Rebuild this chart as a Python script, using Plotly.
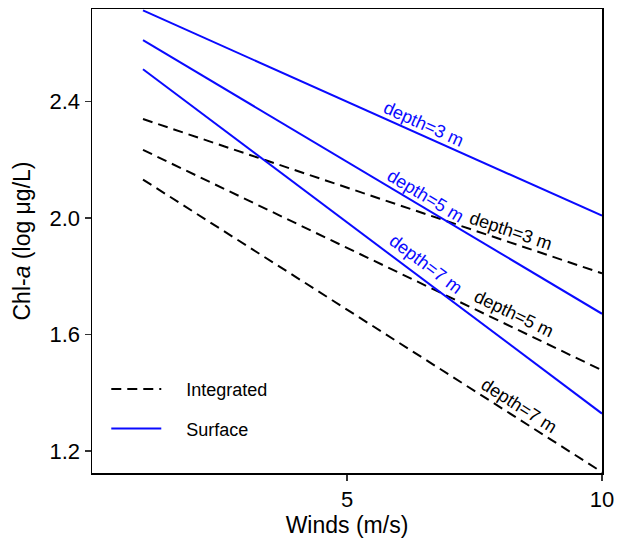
import math
import plotly.graph_objects as go

# Data
wind = [1, 10]
depths = ["3", "5", "7"]
integrated_start = [2.340, 2.234, 2.132]
integrated_end = [1.810, 1.477, 1.127]
surface_start = [2.713, 2.611, 2.511]
surface_end = [2.008, 1.671, 1.328]

x_ticks = [5, 10]
y_ticks = [1.2, 1.6, 2.0, 2.4]
y_tick_text = ["1.2", "1.6", "2.0", "2.4"]

# label positions (x in data units) and vertical offsets (px)
surf_label_x = [6.50, 6.54, 6.54]
surf_label_shift = [12, 13, 17]
int_label_x = [8.22, 8.28, 8.38]
int_label_shift = [12, 14, 13]

W, H = 617, 542
ML, MR, MT, MB = 92, 15, 9, 69
XR = [0, 10]
YR = [1.124, 2.718]
px_x = (W - ML - MR) / (XR[1] - XR[0])
px_y = (H - MT - MB) / (YR[1] - YR[0])

FONT = "Arial, Liberation Sans, sans-serif"
BLUE = "#0a0aff"
PAD = "\u00a0" * 4

fig = go.Figure()
for i, d in enumerate(depths):
    fig.add_trace(go.Scatter(
        x=wind, y=[integrated_start[i], integrated_end[i]], mode="lines",
        line=dict(color="black", width=2, dash="10px,6px"),
        name=PAD + "Integrated", legendgroup="int", showlegend=(i == 0),
        hoverinfo="skip"))
for i, d in enumerate(depths):
    fig.add_trace(go.Scatter(
        x=wind, y=[surface_start[i], surface_end[i]], mode="lines",
        line=dict(color=BLUE, width=2),
        name=PAD + "Surface", legendgroup="surf", showlegend=(i == 0),
        hoverinfo="skip"))

def add_label(y0, y1, lx, shift, color, d):
    slope = (y1 - y0) / (wind[1] - wind[0])
    ly = y0 + slope * (lx - wind[0])
    ang = math.degrees(math.atan(-slope * px_y / px_x))
    fig.add_annotation(x=lx, y=ly, text=f"depth={d} m", showarrow=False,
                       textangle=ang, yshift=shift,
                       font=dict(family=FONT, size=18, color=color))

for i, d in enumerate(depths):
    add_label(surface_start[i], surface_end[i], surf_label_x[i], surf_label_shift[i], BLUE, d)
    add_label(integrated_start[i], integrated_end[i], int_label_x[i], int_label_shift[i], "black", d)

axis_common = dict(showline=True, linecolor="black", linewidth=1.5, mirror=True,
                   ticks="outside", ticklen=6, tickwidth=1.5, tickcolor="#333",
                   showgrid=False, zeroline=False, automargin=False,
                   tickfont=dict(family=FONT, size=22, color="black"))

fig.update_layout(
    width=W, height=H,
    margin=dict(l=ML, r=MR, t=MT, b=MB),
    paper_bgcolor="white", plot_bgcolor="white",
    xaxis=dict(range=XR, tickvals=x_ticks, ticktext=[str(v) for v in x_ticks],
               title=dict(text="Winds (m/s)", font=dict(family=FONT, size=23, color="black"), standoff=4),
               **axis_common),
    yaxis=dict(range=YR, tickvals=y_ticks, ticktext=y_tick_text,
               title=dict(text="Chl-<i>a</i> (log μg/L)", font=dict(family=FONT, size=23, color="black"), standoff=12),
               **axis_common),
    legend=dict(x=0.028, y=0.22, xanchor="left", yanchor="top",
                bgcolor="rgba(0,0,0,0)", font=dict(family=FONT, size=18, color="black"),
                tracegroupgap=13, itemwidth=50),
    showlegend=True,
    hovermode=False,
)

fig.write_html("out.html",
               config={"displayModeBar": False, "staticPlot": True},
               post_script="document.body.style.margin='0px';document.body.style.overflow='hidden';")
